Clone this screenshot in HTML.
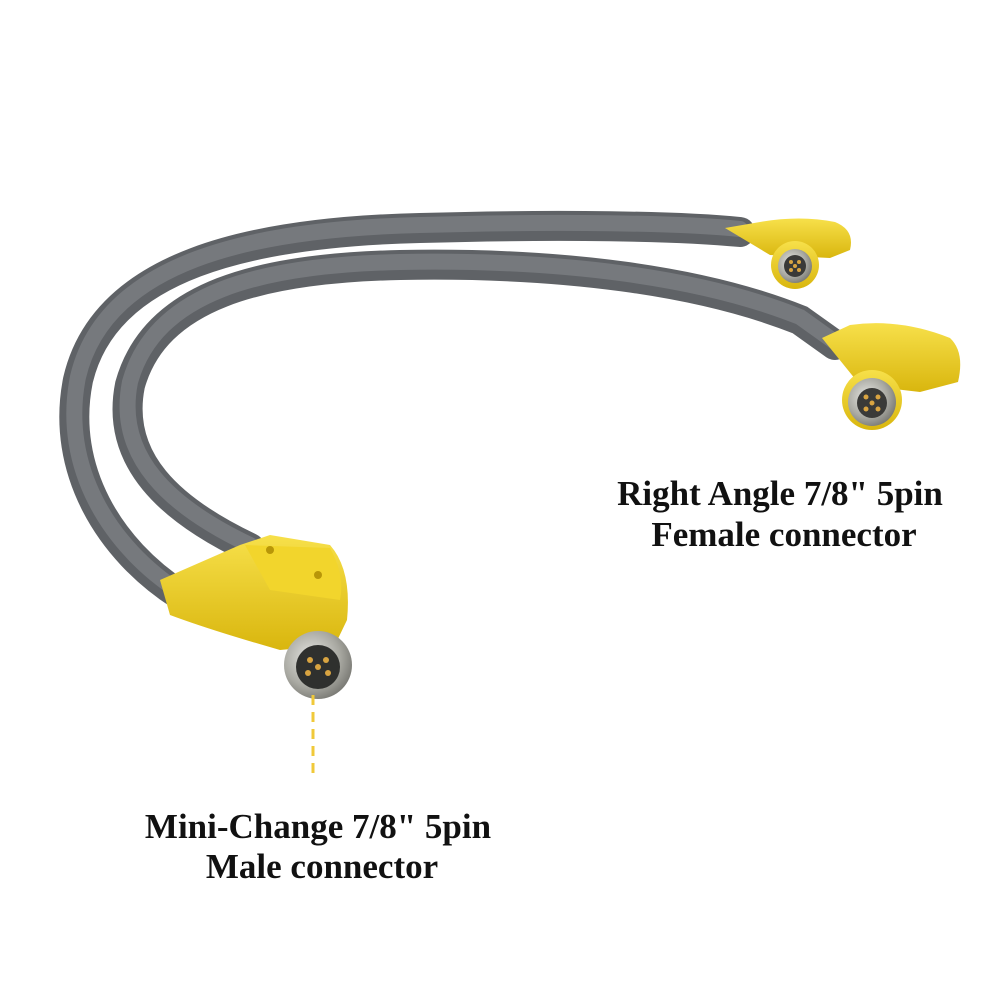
<!DOCTYPE html>
<html><head><meta charset="utf-8"><style>
html,body{margin:0;padding:0;background:#fff;}
svg{display:block}
</style></head><body>
<svg width="1000" height="1000" viewBox="0 0 1000 1000" xmlns="http://www.w3.org/2000/svg">
<defs>
<radialGradient id="metal" cx="0.4" cy="0.4" r="0.7">
<stop offset="0" stop-color="#e8e8e4"/><stop offset="0.6" stop-color="#a9a9a2"/><stop offset="1" stop-color="#6d6d68"/>
</radialGradient>
<linearGradient id="yel" x1="0" y1="0" x2="0" y2="1">
<stop offset="0" stop-color="#f7e04a"/><stop offset="1" stop-color="#d9b60e"/>
</linearGradient>
</defs>
<rect width="1000" height="1000" fill="#fff"/>
<!-- outer cable -->
<path d="M180,595 C110,550 60,470 78,380 C105,265 250,232 420,228 C560,224 680,226 740,232" fill="none" stroke="#5f6266" stroke-width="30" stroke-linecap="round"/>
<path d="M180,595 C110,550 60,470 78,380 C105,265 250,232 420,228 C560,224 680,226 740,232" fill="none" stroke="#76797d" stroke-width="16" stroke-linecap="round" transform="translate(0,-3)"/>
<!-- inner cable -->
<path d="M250,548 C170,510 115,460 130,385 C155,295 260,268 400,265 C560,262 700,280 800,320 L835,345" fill="none" stroke="#5f6266" stroke-width="30" stroke-linecap="round"/>
<path d="M250,548 C170,510 115,460 130,385 C155,295 260,268 400,265 C560,262 700,280 800,320 L835,345" fill="none" stroke="#76797d" stroke-width="16" stroke-linecap="round" transform="translate(0,-3)"/>
<!-- female connector 1 -->
<path d="M725,228 L760,222 Q800,215 835,222 Q855,230 850,250 L830,258 L770,255 Z" fill="url(#yel)"/>
<circle cx="795" cy="265" r="24" fill="url(#yel)"/>
<circle cx="795" cy="266" r="17" fill="url(#metal)"/>
<circle cx="795" cy="266" r="11" fill="#3a3a38"/>
<circle cx="791" cy="262" r="2" fill="#d9a441"/><circle cx="799" cy="262" r="2" fill="#d9a441"/><circle cx="791" cy="270" r="2" fill="#d9a441"/><circle cx="799" cy="270" r="2" fill="#d9a441"/><circle cx="795" cy="266" r="2" fill="#d9a441"/>
<!-- female connector 2 -->
<path d="M822,338 L850,325 Q900,318 950,338 Q965,352 958,382 L920,392 L860,385 Z" fill="url(#yel)"/>
<circle cx="872" cy="400" r="30" fill="url(#yel)"/>
<circle cx="872" cy="402" r="24" fill="url(#metal)"/>
<circle cx="872" cy="403" r="15" fill="#3a3a38"/>
<circle cx="866" cy="397" r="2.5" fill="#d9a441"/><circle cx="878" cy="397" r="2.5" fill="#d9a441"/><circle cx="866" cy="409" r="2.5" fill="#d9a441"/><circle cx="878" cy="409" r="2.5" fill="#d9a441"/><circle cx="872" cy="403" r="2.5" fill="#d9a441"/>
<!-- male connector -->
<path d="M160,580 L240,545 L270,535 L330,545 Q352,570 347,620 L335,645 L280,650 Q210,630 170,615 Z" fill="url(#yel)"/>
<path d="M245,545 L330,548 Q345,575 340,600 L270,590 Z" fill="#f2d52c"/>
<circle cx="270" cy="550" r="4" fill="#b89608"/><circle cx="318" cy="575" r="4" fill="#b89608"/>
<circle cx="318" cy="665" r="34" fill="url(#metal)"/>
<circle cx="318" cy="667" r="22" fill="#2f302e"/>
<circle cx="310" cy="660" r="3" fill="#d9a441"/><circle cx="326" cy="660" r="3" fill="#d9a441"/><circle cx="308" cy="673" r="3" fill="#d9a441"/><circle cx="328" cy="673" r="3" fill="#d9a441"/><circle cx="318" cy="667" r="3" fill="#d9a441"/>
<!-- dashed line -->
<line x1="313" y1="695" x2="313" y2="778" stroke="#f0c93a" stroke-width="3" stroke-dasharray="10,7"/>
<!-- labels -->
<g font-family="Liberation Serif, serif" font-weight="bold" font-size="35" fill="#111" text-anchor="middle">
<text x="780" y="505">Right Angle 7/8" 5pin</text>
<text x="784" y="546">Female connector</text>
<text x="318" y="838">Mini-Change 7/8" 5pin</text>
<text x="322" y="878">Male connector</text>
</g>
</svg>
</body></html>
